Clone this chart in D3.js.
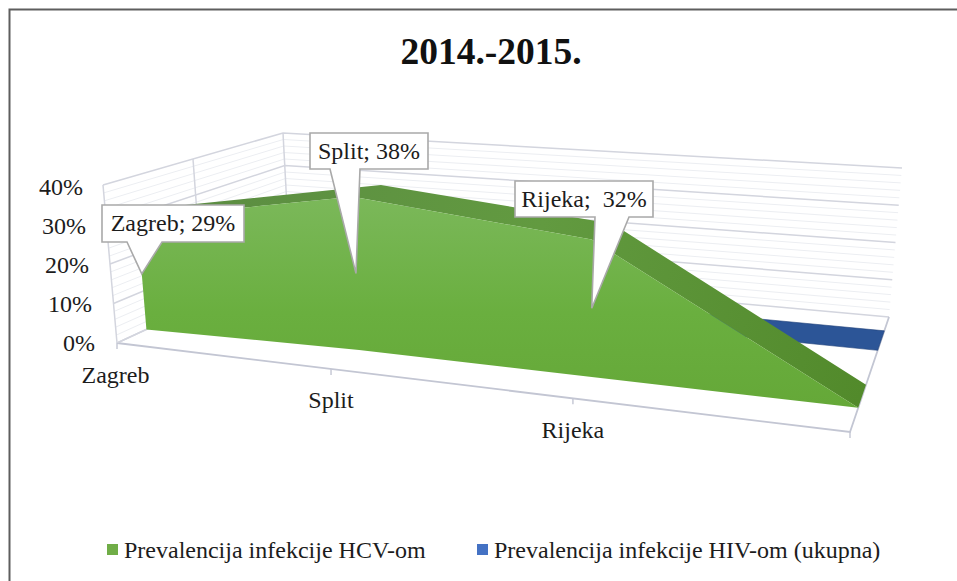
<!DOCTYPE html>
<html><head><meta charset="utf-8">
<script src="https://cdnjs.cloudflare.com/ajax/libs/d3/7.8.5/d3.min.js"></script>
<style>html,body{margin:0;padding:0;background:#fff}svg{display:block}text{font-family:"Liberation Serif",serif;fill:#1c1c1c}</style>
</head><body><div id="c"></div>
<script>
const title = "2014.-2015.";
const categories = ["Zagreb","Split","Rijeka",""];
const yTicks = [0,10,20,30,40];
const minorTicks = d3.range(0,41,2);
const hcvValues = [29,38,32,0];
const hivValues = [0,0,0,0];
const calloutLabels = ["Zagreb; 29%","Split; 38%","Rijeka;  32%"];
const legendLabels = ["Prevalencija infekcije HCV-om","Prevalencija infekcije HIV-om (ukupna)"];

const W=957,H=581;
const svg=d3.select("#c").append("svg").attr("width",W).attr("height",H);

// floor plane corners and wall-top lifts of the perspective box
const FL=[117,343],FR=[850,432],BL=[290,263],BR=[889,317];
const liftFL=[-14,-158],liftFR=[6,-193],liftBL=[-7,-130],liftBR=[13,-149];
const uScale=d3.scaleLinear().domain([0,1,2,3]).range([0,.292,.622,1]);
const hScale=d3.scaleLinear().domain([0,40]).range([0,1]);
const bil=(a,b,c,d,u,v)=>[0,1].map(i=>(1-v)*((1-u)*a[i]+u*b[i])+v*((1-u)*c[i]+u*d[i]));
function proj(u,v,val){
  const f=bil(FL,FR,BL,BR,u,v),l=bil(liftFL,liftFR,liftBL,liftBR,u,v),h=hScale(val);
  return [f[0]+l[0]*h,f[1]+l[1]*h];
}
const line=d3.line();

// frame: only the top and left rules are in the picture
svg.append("path").attr("fill","none").attr("stroke","#5e5e5e").attr("stroke-width",2)
  .attr("d",line([[9.5,H],[9.5,9.5],[W,9.5]]));

svg.append("text").attr("x",491).attr("y",64).attr("text-anchor","middle")
  .style("font-size","37.5px").style("font-weight","bold").style("fill","#111").text(title);

const grid=svg.append("g").attr("fill","none");
minorTicks.forEach(t=>{
  const major=yTicks.includes(t);
  const s=major?"#d3d5de":"#eceef2";
  grid.append("path").attr("stroke",s).attr("stroke-width",major?1.5:1)
    .attr("d",line([proj(0,0,t),proj(0,1,t),proj(1,1,t)]));
});
[[0,0],[0,.5],[0,1]].forEach(([u,v])=>grid.append("path").attr("stroke","#d3d5de").attr("stroke-width",1.5)
  .attr("d",line([proj(u,v,0),proj(u,v,40)])));
grid.append("path").attr("stroke","#c3c6d3").attr("stroke-width",1.8)
  .attr("d",line([proj(0,0,0),proj(1,0,0),proj(1,1,0)]));
grid.append("path").attr("stroke","#d3d5de").attr("stroke-width",1.5)
  .attr("d",line([proj(0,0,0),proj(0,1,0)]));
categories.forEach((c,i)=>{
  const p=proj(uScale(i),0,0);
  grid.append("line").attr("x1",p[0]).attr("y1",p[1]).attr("x2",p[0]).attr("y2",p[1]+6)
    .attr("stroke","#c3c6d3").attr("stroke-width",1.4);
});

const defs=svg.append("defs");
const grad=defs.append("linearGradient").attr("id","gf").attr("x1",0).attr("y1",0).attr("x2",0).attr("y2",1);
grad.append("stop").attr("offset","0").attr("stop-color","#7bb85a");
grad.append("stop").attr("offset","0.55").attr("stop-color","#6aaf3f");
grad.append("stop").attr("offset","1").attr("stop-color","#65a838");

const hivDepth=[.71,.88];
const hcvFrontDepth=[.17,.21,.21,.21], hcvBackDepth=[.37,.41,.43,.41];

const hivFront=hivValues.map((d,i)=>proj(uScale(i),hivDepth[0],d));
const hivBack=hivValues.map((d,i)=>proj(uScale(i),hivDepth[1],d));
svg.append("path").attr("fill","#2c5597").attr("stroke","#1f3f78").attr("stroke-width",.6)
  .attr("d",line([...hivBack,...hivFront.slice().reverse()])+"Z");

const hcvTopF=hcvValues.map((d,i)=>proj(uScale(i),hcvFrontDepth[i],d));
const hcvTopB=hcvValues.map((d,i)=>proj(uScale(i),hcvBackDepth[i],d));
const hcvBase=categories.map((c,i)=>proj(uScale(i),hcvFrontDepth[i],0));
const bandGrad=defs.append("linearGradient").attr("id","gb").attr("gradientUnits","userSpaceOnUse")
  .attr("x1",180).attr("y1",190).attr("x2",860).attr("y2",400);
bandGrad.append("stop").attr("offset","0").attr("stop-color","#5b8c42");
bandGrad.append("stop").attr("offset","0.5").attr("stop-color","#629a40");
bandGrad.append("stop").attr("offset","1").attr("stop-color","#528a2b");
svg.append("path").attr("fill","url(#gb)")
  .attr("d",line([...hcvTopB,...hcvTopF.slice().reverse()])+"Z");
svg.append("path").attr("fill","url(#gf)")
  .attr("d",line([...hcvTopF,...hcvBase.slice().reverse()])+"Z");

const boxes=[{x:102,y:205,w:142,h:37,b0:25,b1:60},{x:310,y:133,w:118,h:36,b0:20,b1:50},{x:515,y:181,w:138,h:36,b0:80,b1:114}];
const call=svg.append("g");
calloutLabels.forEach((t,i)=>{
  const b=boxes[i], tip=proj(uScale(i),hcvFrontDepth[i],hcvValues[i]/2);
  const r=b.x+b.w,bt=b.y+b.h;
  call.append("path").attr("fill","#fff").attr("stroke","#a9a9a9").attr("stroke-width",1.6)
    .attr("d",line([[b.x,b.y],[r,b.y],[r,bt],[b.x+b.b1,bt],tip,[b.x+b.b0,bt],[b.x,bt]])+"Z");
  call.append("text").attr("x",b.x+b.w/2).attr("y",b.y+b.h/2+7.5).attr("text-anchor","middle")
    .style("white-space","pre").style("font-size","24px").text(t);
});

// value axis labels follow their own slanted scales
const yLabX=d3.scaleLinear().domain([0,40]).range([95,83]);
const yLabY=d3.scaleLinear().domain([0,40]).range([351,195]);
const yLab=svg.append("g").style("font-size","24px").attr("text-anchor","end");
yTicks.forEach(t=>yLab.append("text").attr("x",yLabX(t)).attr("y",yLabY(t)).text(t+"%"));

const xLab=svg.append("g").style("font-size","24px").attr("text-anchor","middle");
categories.forEach((c,i)=>{
  const p=proj(uScale(i),0,0);
  xLab.append("text").attr("x",p[0]+(i==0?-1.5:0)).attr("y",p[1]+39.5).text(c);
});

const swatches=[{x:107,c:"#70ad47"},{x:477,c:"#4472c4"}];
const leg=svg.append("g");
legendLabels.forEach((t,i)=>{
  const s=swatches[i];
  leg.append("rect").attr("x",s.x).attr("y",544).attr("width",11).attr("height",11).attr("fill",s.c);
  leg.append("text").attr("x",s.x+17).attr("y",558).style("font-size","24px").text(t);
});
</script></body></html>
